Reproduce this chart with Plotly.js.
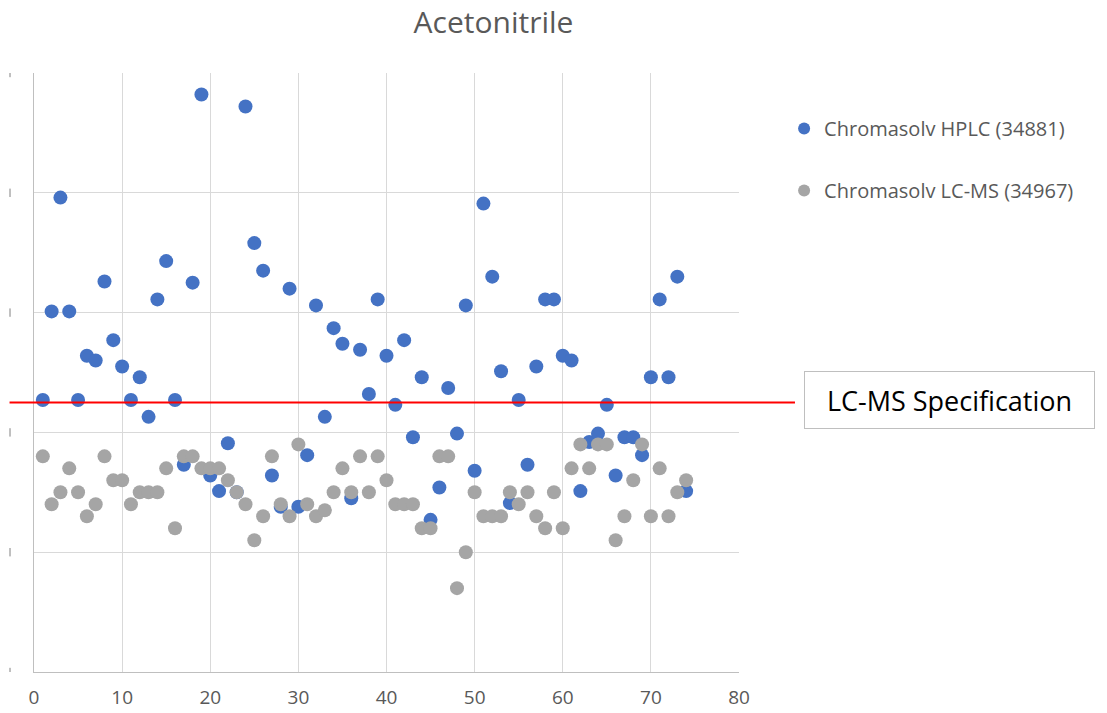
<!DOCTYPE html>
<html>
<head>
<meta charset="utf-8">
<script src="https://cdn.plot.ly/plotly-3.0.1.min.js"></script>
<style>html,body{margin:0;padding:0;background:#fff;}#chart{width:1107px;height:713px;}</style>
</head>
<body>
<div id="chart"></div>
<script>
const titleText = "Acetonitrile";
const seriesNames = ["Chromasolv HPLC (34881)", "Chromasolv LC-MS (34967)"];
const specLabel = "LC-MS Specification";
const specValue = 2.25;
const sampleIndex = [1,2,3,4,5,6,7,8,9,10,11,12,13,14,15,16,17,18,19,20,21,22,23,24,25,26,27,28,29,30,31,32,33,34,35,36,37,38,39,40,41,42,43,44,45,46,47,48,49,50,51,52,53,54,55,56,57,58,59,60,61,62,63,64,65,66,67,68,69,70,71,72,73,74];
const hplcValues = [2.27,3.01,3.96,3.01,2.27,2.64,2.60,3.26,2.77,2.55,2.27,2.46,2.13,3.11,3.43,2.27,1.73,3.25,4.82,1.64,1.51,1.91,1.50,4.72,3.58,3.35,1.64,1.38,3.20,1.38,1.81,3.06,2.13,2.87,2.74,1.45,2.69,2.32,3.11,2.64,2.23,2.77,1.96,2.46,1.27,1.54,2.37,1.99,3.06,1.68,3.91,3.30,2.51,1.41,2.27,1.73,2.55,3.11,3.11,2.64,2.60,1.51,1.92,1.99,2.23,1.64,1.96,1.96,1.81,2.46,3.11,2.46,3.30,1.51];
const lcmsValues = [1.8,1.4,1.5,1.7,1.5,1.3,1.4,1.8,1.6,1.6,1.4,1.5,1.5,1.5,1.7,1.2,1.8,1.8,1.7,1.7,1.7,1.6,1.5,1.4,1.1,1.3,1.8,1.4,1.3,1.9,1.4,1.3,1.35,1.5,1.7,1.5,1.8,1.5,1.8,1.6,1.4,1.4,1.4,1.2,1.2,1.8,1.8,0.7,1.0,1.5,1.3,1.3,1.3,1.5,1.4,1.5,1.3,1.2,1.5,1.2,1.7,1.9,1.7,1.9,1.9,1.1,1.3,1.6,1.9,1.3,1.7,1.3,1.5,1.6];
const xTicks = [0,10,20,30,40,50,60,70,80];
const yTicks = [0,1,2,3,4,5];

const FONT = "'Open Sans', Lato, sans-serif";
const traces = [
  {x: sampleIndex, y: hplcValues, name: seriesNames[0], type: "scatter", mode: "markers",
   marker: {color: "#4472C4", size: 14}, legendgroup: "a"},
  {x: sampleIndex, y: lcmsValues, name: seriesNames[1], type: "scatter", mode: "markers",
   marker: {color: "#A5A5A5", size: 14}, legendgroup: "b"}
];

const stubs = yTicks.map(v => ({type: "line", xref: "paper", yref: "y",
  x0: -0.034, x1: -0.034, y0: v - 0.035, y1: v + 0.035,
  line: {color: "#BFBFBF", width: 2}}));

const layout = {
  width: 1107, height: 713,
  margin: {l: 34, r: 368, t: 73, b: 41},
  paper_bgcolor: "#fff", plot_bgcolor: "#fff",
  font: {family: FONT, color: "#595959"},
  title: {text: titleText, font: {size: 30, color: "#595959", family: FONT},
          xref: "container", yref: "container", x: 0.4458, xanchor: "center",
          y: 0.954, yanchor: "bottom"},
  xaxis: {range: [0, 80], tickvals: xTicks, showgrid: true, gridcolor: "#D9D9D9", gridwidth: 1,
          zeroline: false, showline: true, linecolor: "#BFBFBF", linewidth: 1,
          ticks: "", ticklabelstandoff: 8, tickfont: {size: 19, color: "#595959", family: FONT}, fixedrange: true},
  yaxis: {range: [0, 5], tickvals: yTicks, showgrid: true, gridcolor: "#D9D9D9", gridwidth: 1,
          zeroline: false, showline: true, linecolor: "#BFBFBF", linewidth: 1,
          showticklabels: false, ticks: "", fixedrange: true},
  showlegend: true,
  legend: {x: 1.064, xanchor: "left", y: 0.94, yanchor: "top", traceorder: "grouped",
           tracegroupgap: 33, itemsizing: "constant", font: {size: 20, color: "#595959", family: FONT},
           bgcolor: "rgba(0,0,0,0)"},
  shapes: [
    {type: "line", xref: "paper", yref: "y", x0: -0.0347, x1: 1.0794, y0: specValue, y1: specValue,
     line: {color: "#FF0000", width: 2}}
  ].concat(stubs),
  annotations: [
    {text: specLabel, xref: "paper", yref: "y", x: 1.2985, y: 2.27, xanchor: "center", yanchor: "middle",
     showarrow: false, font: {size: 27, color: "#000000", family: FONT},
     width: 275, height: 42, borderpad: 7, bordercolor: "#BFBFBF", borderwidth: 1, bgcolor: "#fff"}
  ]
};

Plotly.newPlot("chart", traces, layout, {displayModeBar: false, staticPlot: true});
</script>
</body>
</html>
